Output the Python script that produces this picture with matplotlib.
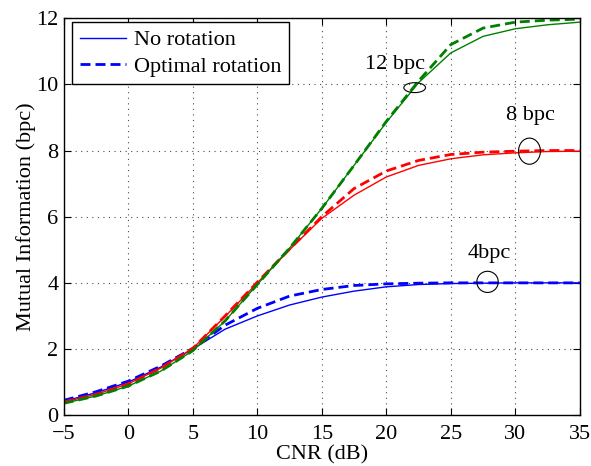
import numpy as np
import matplotlib
matplotlib.use("Agg")
import matplotlib.pyplot as plt
from matplotlib.patches import Ellipse

plt.rcParams['font.family'] = ['Liberation Serif', 'DejaVu Serif']

# CNR axis (dB)
cnr = [-5, -2.5, 0, 2.5, 5, 7.5, 10, 12.5, 15, 17.5, 20, 22.5, 25, 27.5, 30, 32.5, 35]

# 4 bpc
mi4_norot = [0.42, 0.68, 1.00, 1.45, 2.00, 2.60, 3.00, 3.33, 3.57, 3.75, 3.88, 3.95, 3.98, 3.99, 4.00, 4.00, 4.00]
mi4_opt = [0.45, 0.71, 1.03, 1.48, 2.02, 2.72, 3.23, 3.60, 3.80, 3.92, 3.97, 3.99, 4.00, 4.00, 4.00, 4.00, 4.00]
# 8 bpc
mi8_norot = [0.40, 0.63, 0.95, 1.42, 2.02, 2.98, 4.00, 5.00, 5.95, 6.65, 7.20, 7.55, 7.75, 7.87, 7.93, 7.97, 7.98]
mi8_opt = [0.40, 0.63, 0.95, 1.42, 2.02, 3.00, 4.02, 5.02, 6.00, 6.85, 7.38, 7.70, 7.88, 7.95, 7.98, 8.00, 8.00]
# 12 bpc
mi12_norot = [0.36, 0.58, 0.88, 1.33, 1.95, 2.85, 3.95, 5.05, 6.25, 7.55, 8.85, 10.05, 10.95, 11.45, 11.68, 11.80, 11.88]
mi12_opt = [0.36, 0.58, 0.88, 1.33, 1.95, 2.85, 3.95, 5.05, 6.25, 7.55, 8.88, 10.10, 11.20, 11.70, 11.88, 11.94, 11.97]

fig = plt.figure(figsize=(5.91, 4.66), dpi=100)
ax = fig.add_axes([0.108, 0.109, 0.873, 0.852])

dash = (3.6, 1.8)
ax.plot(cnr, mi4_norot, color='b', lw=1.0, label='No rotation')
ax.plot(cnr, mi4_opt, color='b', lw=2.0, ls='--', dashes=dash, label='Optimal rotation')
ax.plot(cnr, mi8_norot, color='r', lw=1.0)
ax.plot(cnr, mi8_opt, color='r', lw=2.0, ls='--', dashes=dash)
ax.plot(cnr, mi12_norot, color=(0, 0.5, 0), lw=1.0)
ax.plot(cnr, mi12_opt, color=(0, 0.5, 0), lw=2.0, ls='--', dashes=dash)

# annotations
for (cx, cy, w, h) in [(22.2, 9.9, 1.68, 0.30), (31.1, 7.98, 1.70, 0.79), (27.85, 4.03, 1.66, 0.64)]:
    ax.add_patch(Ellipse((cx, cy), w, h, fill=False, ec='k', lw=0.8, zorder=5))
ax.text(20.7, 10.6, '12 bpc', fontsize=16, ha='center', va='center')
ax.text(31.2, 9.05, '8 bpc', fontsize=16, ha='center', va='center')
ax.text(28.0, 4.9, '4bpc', fontsize=16, ha='center', va='center')

ax.set_xlim(-5, 35)
ax.set_ylim(0, 12)
ax.set_xticks(np.arange(-5, 36, 5))
ax.set_yticks(np.arange(0, 13, 2))
ax.grid(True, ls=(0, (1, 4)), color='0.3', lw=0.8)
ax.tick_params(direction='in', top=True, right=True, labelsize=16, length=5, pad=4)
ax.tick_params(axis='x', pad=7)
ax.set_xlabel('CNR (dB)', fontsize=16, labelpad=1)
ax.set_ylabel('Mutual Information (bpc)', fontsize=16, labelpad=0)
for s in ax.spines.values():
    s.set_linewidth(1.0)

leg = ax.legend(loc='upper left', bbox_to_anchor=(0.0155, 0.99), borderaxespad=0,
                fontsize=16, fancybox=False, framealpha=1, edgecolor='k',
                handlelength=2.1, borderpad=0.35, labelspacing=0.25,
                handletextpad=0.35)
leg.get_frame().set_linewidth(1.0)

fig.savefig('out.png', dpi=100)
